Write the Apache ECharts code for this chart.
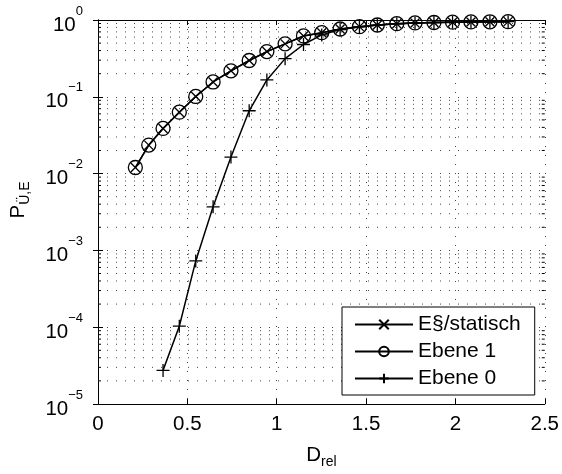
<!DOCTYPE html>
<html>
<head>
<meta charset="utf-8">
<script src="https://cdn.jsdelivr.net/npm/echarts@6/dist/echarts.min.js"></script>
<style>
  html, body { margin: 0; padding: 0; background: #fff; }
  #chart { width: 562px; height: 474px; }
</style>
</head>
<body>
<div id="chart"></div>
<script>
// D_rel values (shared by all curves)
const dRel = [0.209, 0.284, 0.364, 0.455, 0.547, 0.644, 0.744, 0.846, 0.945, 1.047, 1.150,
  1.252, 1.355, 1.463, 1.563, 1.672, 1.774, 1.880, 1.984, 2.087, 2.193, 2.295]

// P values
const eStatisch = [0.0120, 0.0235, 0.0387, 0.063, 0.101, 0.156, 0.218, 0.297, 0.388, 0.489, 0.62,
  0.684, 0.764, 0.819, 0.861, 0.895, 0.915, 0.928, 0.937, 0.943, 0.948, 0.952]
const ebene1 = [0.0120, 0.0235, 0.0387, 0.063, 0.101, 0.156, 0.218, 0.297, 0.388, 0.489, 0.62,
  0.684, 0.764, 0.819, 0.861, 0.895, 0.915, 0.928, 0.937, 0.943, 0.948, 0.952]
const ebene0 = [null, null, 2.74e-5, 1.03e-4, 7.3e-4, 3.69e-3, 0.0164, 0.0658, 0.166, 0.314, 0.48,
  0.64, 0.75, 0.812, 0.858, 0.893, 0.914, 0.928, 0.937, 0.943, 0.948, 0.952]

const xTicks = [0, 0.5, 1, 1.5, 2, 2.5]
const yDecades = [1e-5, 1e-4, 1e-3, 1e-2, 1e-1, 1]

const FONT = 'Liberation Sans'
const FS = 20.5

// minor grid positions 2..9 x decade
const minorVals = []
for (let d = 0; d < yDecades.length - 1; d++) {
  for (let k = 2; k <= 9; k++) minorVals.push(k * yDecades[d])
}

const pairs = arr => dRel.map((x, i) => [x, arr[i]]).filter(p => p[1] != null)

const xSym = 'path://M0,0 L10,10 M10,0 L0,10'
const plusSym = 'path://M5,0 L5,10 M0,5 L10,5'

const chart = echarts.init(document.getElementById('chart'))

const supMap = e => e < 0 ? '\u2212' + (-e) : String(e)

const option = {
  animation: false,
  textStyle: { fontFamily: FONT },
  grid: { left: 97, right: 17, top: 20, bottom: 68 },
  legend: {
    orient: 'vertical',
    left: 342,
    top: 307,
    padding: [7, 14, 6, 12],
    itemGap: 6,
    itemWidth: 58,
    itemHeight: 12,
    backgroundColor: '#fff',
    borderColor: '#000',
    borderWidth: 1,
    textStyle: { fontSize: 21, color: '#000', fontFamily: FONT },
    data: ['E§/statisch', 'Ebene 1', 'Ebene 0']
  },
  xAxis: [
    {
      type: 'value',
      min: 0,
      max: 2.5,
      interval: 0.5,
      name: '{d|D}{s|rel}',
      nameLocation: 'middle',
      nameGap: 38,
      nameTextStyle: {
        rich: {
          d: { fontSize: FS, color: '#000', fontFamily: FONT },
          s: { fontSize: 14, color: '#000', fontFamily: FONT, padding: [13, 0, 0, 0] }
        }
      },
      axisLine: { lineStyle: { color: '#000', width: 1 } },
      axisTick: { inside: true, length: 5, lineStyle: { color: '#000' } },
      axisLabel: {
        fontSize: FS, color: '#000', margin: 10, fontFamily: FONT,
        formatter: v => xTicks.includes(v) ? String(v) : ''
      },
      splitLine: { show: true, lineStyle: { color: '#444', type: [1, 8], width: 1 } }
    },
    {
      type: 'value',
      position: 'top',
      min: 0,
      max: 2.5,
      interval: 0.5,
      axisLine: { show: true, lineStyle: { color: '#000', width: 1 } },
      axisTick: { show: true, inside: true, length: 5, lineStyle: { color: '#000' } },
      axisLabel: { show: false },
      splitLine: { show: false }
    }
  ],
  yAxis: [
    {
      type: 'log',
      min: 1e-5,
      max: 1,
      logBase: 10,
      name: '{p|P}{s|\u00dc,E}',
      nameLocation: 'middle',
      nameGap: 66,
      nameRotate: 90,
      nameTextStyle: {
        padding: [0, 0, 0, 24],
        rich: {
          p: { fontSize: FS, color: '#000', fontFamily: FONT },
          s: { fontSize: 14, color: '#000', fontFamily: FONT, padding: [13, 0, 0, 0] }
        }
      },
      axisLine: { show: true, lineStyle: { color: '#000', width: 1 } },
      axisTick: { inside: true, length: 5, lineStyle: { color: '#000' } },
      axisLabel: {
        margin: 15,
        formatter: v => '{b|10}{s|' + supMap(Math.round(Math.log10(v))) + '}',
        rich: {
          b: { fontSize: FS, color: '#000', fontFamily: FONT, padding: [10, 0, 0, 0] },
          s: { fontSize: 13, color: '#000', fontFamily: FONT, verticalAlign: 'top' }
        }
      },
      splitLine: { show: true, lineStyle: { color: '#444', type: [1, 8], width: 1 } }
    },
    {
      type: 'log',
      position: 'right',
      min: 1e-5,
      max: 1,
      logBase: 10,
      axisLine: { show: true, lineStyle: { color: '#000', width: 1 } },
      axisTick: { show: true, inside: true, length: 5, lineStyle: { color: '#000' } },
      axisLabel: { show: false },
      splitLine: { show: false }
    }
  ],
  series: [
    {
      // minor log grid lines and minor ticks on both sides
      type: 'custom',
      silent: true,
      data: minorVals.map(v => [0, v]),
      renderItem: (params, api) => {
        const v = api.value(1)
        const l = api.coord([0, v])
        const r = api.coord([2.5, v])
        return {
          type: 'group',
          children: [
            { type: 'line', shape: { x1: l[0], y1: l[1], x2: r[0], y2: r[1] },
              style: { stroke: '#444', lineWidth: 1, lineDash: [1, 8] } },
            { type: 'line', shape: { x1: l[0], y1: l[1], x2: l[0] + 3, y2: l[1] },
              style: { stroke: '#000', lineWidth: 1 } },
            { type: 'line', shape: { x1: r[0], y1: r[1], x2: r[0] - 3, y2: r[1] },
              style: { stroke: '#000', lineWidth: 1 } }
          ]
        }
      },
      z: 1
    },
    {
      name: 'E§/statisch',
      type: 'line',
      data: pairs(eStatisch),
      symbol: xSym,
      symbolSize: 9,
      showAllSymbol: true,
      lineStyle: { color: '#000', width: 1.5 },
      itemStyle: { color: 'none', borderColor: '#000', borderWidth: 1.3 },
      z: 3
    },
    {
      name: 'Ebene 1',
      type: 'line',
      data: pairs(ebene1),
      symbol: 'circle',
      symbolSize: 14,
      showAllSymbol: true,
      lineStyle: { color: '#000', width: 1.5 },
      itemStyle: { color: 'none', borderColor: '#000', borderWidth: 1.3 },
      z: 3
    },
    {
      name: 'Ebene 0',
      type: 'line',
      data: pairs(ebene0),
      symbol: plusSym,
      symbolSize: 13,
      showAllSymbol: true,
      lineStyle: { color: '#000', width: 1.5 },
      itemStyle: { color: 'none', borderColor: '#000', borderWidth: 1.3 },
      z: 3
    }
  ]
}

chart.setOption(option)
</script>
</body>
</html>
